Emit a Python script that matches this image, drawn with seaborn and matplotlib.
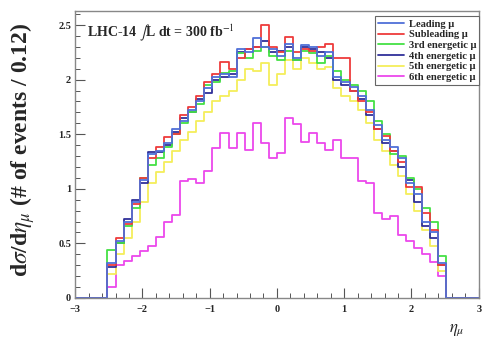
import numpy as np
import pandas as pd
import matplotlib
matplotlib.use("Agg")
import matplotlib.pyplot as plt
from matplotlib.lines import Line2D
from matplotlib.ticker import MultipleLocator
import seaborn as sns

# ---------------- data ----------------
series_names = ["Leading μ", "Subleading μ", "3rd energetic μ",
                "4th energetic μ", "5th energetic μ", "6th energetic μ"]
series_colors = ["#4f6fd8", "#ee3b3b", "#44e044", "#30309a", "#f4ee5a", "#ec48ec"]

# bin centres of the non-empty bins (width 0.12, from -2.52 to 2.52)
eta_centers = [-2.46, -2.34, -2.22, -2.10, -1.98, -1.86, -1.74, -1.62, -1.50, -1.38,
               -1.26, -1.14, -1.02, -0.90, -0.78, -0.66, -0.54, -0.42, -0.30, -0.18,
               -0.06, 0.06, 0.18, 0.30, 0.42, 0.54, 0.66, 0.78, 0.90, 1.02,
               1.14, 1.26, 1.38, 1.50, 1.62, 1.74, 1.86, 1.98, 2.10, 2.22,
               2.34, 2.46]

leading = [0.32, 0.52, 0.70, 0.88, 1.08, 1.32, 1.35, 1.42, 1.55, 1.62,
           1.72, 1.80, 1.92, 2.02, 2.05, 2.02, 2.28, 2.25, 2.38, 2.30,
           2.28, 2.22, 2.33, 2.20, 2.32, 2.30, 2.22, 2.25, 2.02, 1.98,
           1.93, 1.85, 1.72, 1.58, 1.45, 1.38, 1.28, 1.05, 0.95, 0.70,
           0.60, 0.32]
subleading = [0.30, 0.55, 0.68, 0.86, 1.10, 1.28, 1.38, 1.47, 1.50, 1.68,
              1.75, 1.85, 1.98, 2.05, 2.16, 2.10, 2.20, 2.28, 2.30, 2.50,
              2.30, 2.25, 2.39, 2.25, 2.28, 2.26, 2.30, 2.33, 2.20, 2.20,
              1.90, 1.80, 1.70, 1.55, 1.48, 1.35, 1.25, 1.02, 1.02, 0.78,
              0.62, 0.30]
third = [0.44, 0.50, 0.66, 0.82, 1.10, 1.22, 1.28, 1.38, 1.50, 1.60,
         1.70, 1.78, 1.95, 1.98, 2.06, 2.08, 2.24, 2.20, 2.26, 2.30,
         2.22, 2.18, 2.26, 2.18, 2.26, 2.24, 2.15, 2.22, 2.08, 2.00,
         1.95, 1.90, 1.80, 1.62, 1.50, 1.32, 1.30, 1.10, 1.00, 0.82,
         0.70, 0.38]
fourth = [0.28, 0.50, 0.72, 0.90, 1.05, 1.34, 1.34, 1.40, 1.52, 1.65,
          1.70, 1.82, 1.88, 2.00, 2.02, 2.05, 2.25, 2.28, 2.30, 2.35,
          2.25, 2.26, 2.30, 2.18, 2.30, 2.28, 2.25, 2.20, 2.00, 1.95,
          1.90, 1.82, 1.68, 1.55, 1.42, 1.35, 1.20, 1.08, 0.88, 0.66,
          0.55, 0.30]
fifth = [0.22, 0.40, 0.55, 0.70, 0.88, 1.05, 1.15, 1.25, 1.35, 1.45,
         1.52, 1.62, 1.70, 1.80, 1.85, 1.90, 2.00, 2.10, 2.08, 2.15,
         1.95, 2.05, 2.18, 2.10, 2.20, 2.15, 2.10, 2.12, 1.92, 1.85,
         1.80, 1.72, 1.60, 1.45, 1.35, 1.22, 1.12, 0.95, 0.80, 0.62,
         0.48, 0.25]
sixth = [0.10, 0.30, 0.34, 0.38, 0.43, 0.48, 0.56, 0.70, 0.76, 1.07,
         1.09, 1.05, 1.16, 1.37, 1.51, 1.37, 1.51, 1.36, 1.60, 1.42,
         1.28, 1.33, 1.65, 1.59, 1.43, 1.51, 1.42, 1.36, 1.45, 1.28,
         1.28, 1.07, 1.05, 0.78, 0.72, 0.75, 0.58, 0.52, 0.46, 0.40,
         0.33, 0.20]

x_ticks = [-3, -2, -1, 0, 1, 2, 3]
x_ticklabels = ["−3", "−2", "−1", "0", "1", "2", "3"]
y_ticks = [0, 0.5, 1, 1.5, 2, 2.5]
y_ticklabels = ["0", "0.5", "1", "1.5", "2", "2.5"]

all_values = [leading, subleading, third, fourth, fifth, sixth]

# -------------- figure ----------------
sns.set_style("ticks")
plt.rcParams["font.family"] = ["Liberation Serif", "DejaVu Serif"]
plt.rcParams["mathtext.fontset"] = "stix"

rows = []
for name, vals in zip(series_names, all_values):
    for c, v in zip(eta_centers, vals):
        rows.append({"eta": c, "w": v, "series": name})
df = pd.DataFrame(rows)

fig = plt.figure(figsize=(4.85, 3.39), dpi=100)
ax = fig.add_axes([0.155, 0.121, 0.832, 0.847])

sns.histplot(data=df, x="eta", weights="w", hue="series", hue_order=series_names,
             palette=dict(zip(series_names, series_colors)),
             binwidth=0.12, binrange=(-3.0, 3.0),
             element="step", fill=False, linewidth=1.3, legend=False, ax=ax)

ax.set_xlim(-3, 3)
ax.set_ylim(0, 2.63)
ax.set_xticks(x_ticks)
ax.set_xticklabels(x_ticklabels)
ax.set_yticks(y_ticks)
ax.set_yticklabels(y_ticklabels)
ax.xaxis.set_minor_locator(MultipleLocator(0.2))
ax.yaxis.set_minor_locator(MultipleLocator(0.1))
ax.tick_params(which="both", direction="in", top=False, right=False,
               labelsize=7.5, color="#555555", pad=3)
ax.tick_params(axis="x", which="both", pad=5)
ax.tick_params(which="major", length=7, width=0.8)
ax.tick_params(which="minor", length=3.5, width=0.7)
for lab in ax.get_xticklabels() + ax.get_yticklabels():
    lab.set_fontweight("bold")
for sp in ax.spines.values():
    sp.set_visible(True)
    sp.set_color("#888888")
    sp.set_linewidth(1.0)

ax.set_xlabel(r"$\eta_{\mu}$", fontsize=12, fontweight="bold")
ax.xaxis.set_label_coords(0.945, -0.085)
ax.set_ylabel(r"d$\sigma$/d$\eta_{\mu}$ (# of events / 0.12)", fontsize=17,
              fontweight="bold")
ax.yaxis.set_label_coords(-0.095, 0.516)

ax.text(0.03, 0.925, r"LHC-14 $\int$L dt = 300 fb$^{-1}$", transform=ax.transAxes,
        fontsize=10, fontweight="bold", va="center", ha="left")

handles = [Line2D([0], [0], color=c, lw=1.3) for c in series_colors]
leg = ax.legend(handles, series_names, loc="upper right",
                bbox_to_anchor=(1.015, 1.0), frameon=True, fancybox=False,
                edgecolor="#666666", framealpha=1, borderpad=0.3,
                labelspacing=0.12, handlelength=2.4, handletextpad=0.5,
                prop={"family": ["Liberation Serif", "DejaVu Serif"],
                      "weight": "bold", "size": 7.6})
leg.get_frame().set_linewidth(0.8)

fig.savefig("out.png", dpi=100)
